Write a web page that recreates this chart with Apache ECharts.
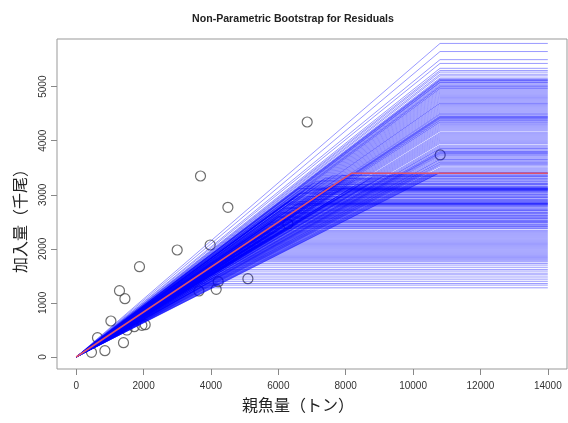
<!DOCTYPE html>
<html>
<head>
<meta charset="utf-8">
<script src="https://cdn.jsdelivr.net/npm/echarts@6/dist/echarts.min.js"></script>
<style>
html,body{margin:0;padding:0;background:#fff;}
#chart{width:568px;height:423px;}
</style>
</head>
<body>
<div id="chart"></div>
<script>
// Observed data (spawning biomass vs recruitment)
const ssb = [454, 632, 852, 1030, 1285, 1404, 1446, 1505, 1722, 1950, 2048, 1879, 2998, 3642, 3690, 3977, 4156, 4215, 4503, 5097, 6284, 6857, 10805];
const recruit = [87, 357, 117, 666, 1226, 265, 1078, 499, 560, 586, 597, 1670, 1979, 1221, 3348, 2072, 1252, 1393, 2769, 1448, 2460, 4347, 3737];

// Fitted hockey-stick (breakpoint, plateau)
const fitBreak = 8180;
const fitPlateau = 3400;
const lineEndX = 14000;

// Bootstrap replicates: plateau level and breakpoint of each hockey-stick line
const bootPlateau = [
  5800, 5650, 5500, 5430, 5340, 5300, 5270, 5230, 5200, 5160, 5130, 5110, 5090, 5080, 5070, 5050,
  5000, 4960, 4920, 4880, 4840, 4800, 4760, 4720, 4690, 4650, 4610, 4570, 4530, 4480, 4460, 4450,
  4440, 4430, 4420, 4380, 4340, 4300, 4260, 4220, 4180, 4150, 4110, 4070, 4030, 3990, 3950, 3920,
  3880, 3850, 3800, 3785, 3775, 3765, 3750, 3720, 3680, 3650, 3610, 3580, 3550, 3500, 3460, 3420,
  5140, 5115, 5030, 5015, 4990, 4970, 4940, 4900, 4860, 4820, 4780, 4740, 4700, 4670, 4630, 4590,
  4550, 4510, 4495, 4410, 4395, 4370, 4350, 4320, 4280, 4240, 4200, 4130, 4090, 4050, 4010, 3970,
  3900, 3860, 3830, 3810, 3735, 3700, 3660, 3630, 3600, 3565, 3530, 3480, 3440, 3410,
  3400, 3380, 3350, 3330, 3300, 3270, 3250, 3220, 3200, 3180, 3150, 3130, 3120, 3110, 3100, 3090,
  3080, 3060, 3040, 3010, 2990, 2960, 2940, 2910, 2890, 2870, 2850, 2840, 2830, 2820, 2800, 2780,
  2750, 2720, 2700, 2670, 2650, 2620, 2600, 2570, 2550, 2520, 2500, 2480, 2450, 2420, 2400, 2370,
  2320, 2280, 2240, 2200, 2160, 2120, 2080, 2040, 2000, 1960, 1920, 1880, 1840, 1800, 1760, 1700,
  1620, 1550, 1480, 1400, 1330, 1280,
  3390, 3360, 3340, 3310, 3280, 3240, 3210, 3190, 3160, 3140, 3125, 3115, 3105, 3095, 3085, 3070,
  3050, 3020, 3000, 2970, 2950, 2920, 2900, 2880, 2860, 2845, 2835, 2825, 2810, 2790, 2760, 2730,
  2710, 2680, 2660, 2630, 2610, 2580, 2560, 2530, 2510, 2490, 2460, 2430, 2410, 2380, 2340, 2300,
  2260, 2220, 2180, 2140, 2100, 2060, 2020, 1980, 1940, 1900, 1860, 1820, 1780, 1730, 1660, 1590,
  1520, 1440, 1360
];
const bootBreak = [
  10800, 10800, 10800, 10800, 10800, 10800, 10800, 10800, 10800, 10800, 10800, 10800, 10800, 10800, 10800, 10800,
  10800, 10800, 10800, 10800, 10800, 10800, 10800, 10800, 10800, 10800, 10800, 10800, 10800, 10800, 10800, 10800,
  10800, 10800, 10800, 10800, 10800, 10800, 10800, 10800, 10800, 10800, 10800, 10800, 10800, 10800, 10800, 10800,
  10800, 10800, 10800, 10800, 10800, 10800, 10800, 10800, 10800, 10800, 10800, 10800, 10800, 10800, 10800, 10800,
  10800, 10800, 10800, 10800, 10800, 10800, 10800, 10800, 10800, 10800, 10800, 10800, 10800, 10800, 10800, 10800,
  10800, 10800, 10800, 10800, 10800, 10800, 10800, 10800, 10800, 10800, 10800, 10800, 10800, 10800, 10800, 10800,
  10800, 10800, 10800, 10800, 10800, 10800, 10800, 10800, 10800, 10800, 10800, 10800, 10800, 10800,
  8200, 9400, 7600, 8800, 8000, 7300, 8600, 7800, 7000, 8300, 7500, 6900, 7900, 7200, 8100, 6800,
  7400, 7700, 6700, 7100, 7900, 6500, 7300, 6900, 7600, 6400, 7000, 6600, 7400, 6300, 6900, 7200,
  6200, 6700, 7000, 6100, 6500, 6900, 6000, 6400, 6700, 5900, 6200, 6600, 5700, 6100, 6400, 5600,
  5900, 5500, 5800, 5300, 5600, 5200, 5400, 5000, 5200, 4800, 5000, 4700, 4900, 4600, 4700, 4500,
  4400, 4300, 4100, 4000, 3800, 3700,
  8500, 7900, 9100, 7400, 8300, 7100, 8700, 7600, 6800, 8000, 7300, 6600, 7700, 7000, 8200, 6900,
  7500, 6600, 7300, 6900, 7700, 6400, 7100, 6600, 7300, 6200, 6800, 7100, 6500, 6800, 6300, 7000,
  6400, 6600, 6100, 6700, 6300, 6000, 6500, 6100, 6400, 5800, 6200, 5900, 6300, 5700, 6000, 5600,
  5700, 5400, 5500, 5100, 5300, 4900, 5100, 4900, 4700, 4800, 4600, 4500, 4600, 4400, 4300, 4200,
  4000, 3900, 3700
];

const xTicks = [0, 2000, 4000, 6000, 8000, 10000, 12000, 14000];
const yTicks = [0, 1000, 2000, 3000, 4000, 5000];

const chart = echarts.init(document.getElementById('chart'), null, {renderer: 'canvas'});

const series = [];
series.push({
  type: 'scatter',
  data: ssb.map((x, i) => [x, recruit[i]]),
  symbol: 'circle',
  symbolSize: 10,
  itemStyle: {color: 'rgba(0,0,0,0)', borderColor: '#4a4a4a', borderWidth: 1.2},
  silent: true,
  z: 1
});
for (let i = 0; i < bootPlateau.length; i++) {
  series.push({
    type: 'line',
    data: [[0, 0], [bootBreak[i], bootPlateau[i]], [lineEndX, bootPlateau[i]]],
    showSymbol: false,
    symbol: 'none',
    silent: true,
    lineStyle: {color: 'rgba(0,0,255,0.4)', width: 1},
    z: 2
  });
}
series.push({
  type: 'line',
  data: [[0, 0], [fitBreak, fitPlateau], [lineEndX, fitPlateau]],
  symbol: 'none',
  silent: true,
  lineStyle: {color: '#DF536B', width: 1.6},
  z: 3
});

const plain = v => String(v);

chart.setOption({
  animation: false,
  backgroundColor: '#fff',
  title: {
    text: 'Non-Parametric Bootstrap for Residuals',
    left: 288,
    top: 9,
    textAlign: 'center',
    textStyle: {fontFamily: 'Liberation Sans, Arial, sans-serif', fontSize: 10.6, fontWeight: 'bold', color: '#222'}
  },
  grid: {left: 57, right: 1, top: 39, bottom: 54, show: true, borderColor: '#999', borderWidth: 1, backgroundColor: 'transparent'},
  xAxis: {
    type: 'value',
    min: -570,
    max: 14570,
    name: '親魚量（トン）',
    nameLocation: 'middle',
    nameGap: 28,
    nameTextStyle: {fontFamily: 'Noto Sans CJK JP', fontSize: 16, color: '#222', padding: [0, 28, 0, 0]},
    axisLine: {show: false, onZero: false},
    splitLine: {show: false},
    axisTick: {show: true, customValues: xTicks, length: 6, lineStyle: {color: '#888'}},
    axisLabel: {customValues: xTicks, formatter: plain, margin: 12, fontSize: 10, color: '#333', fontFamily: 'Liberation Sans, Arial, sans-serif'}
  },
  yAxis: {
    type: 'value',
    min: -222,
    max: 5882,
    name: '加入量（千尾）',
    nameLocation: 'middle',
    nameGap: 29,
    nameRotate: 90,
    nameTextStyle: {fontFamily: 'Noto Sans CJK JP', fontSize: 16, color: '#222', padding: [0, 26, 0, 0]},
    axisLine: {show: false, onZero: false},
    splitLine: {show: false},
    axisTick: {show: true, customValues: yTicks, length: 6, lineStyle: {color: '#888'}},
    axisLabel: {customValues: yTicks, formatter: plain, rotate: 90, margin: 9, fontSize: 10, color: '#333', fontFamily: 'Liberation Sans, Arial, sans-serif'}
  },
  series: series
});
</script>
</body>
</html>
